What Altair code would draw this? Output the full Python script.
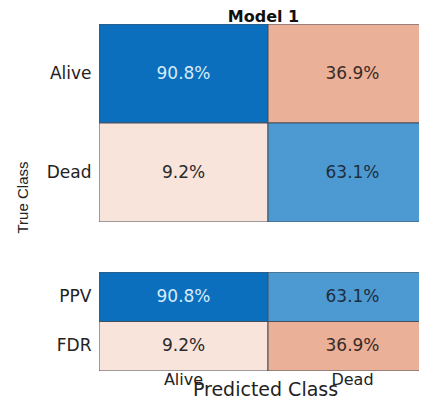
import altair as alt
import pandas as pd

classes = ["Alive", "Dead"]
true_class = ["Alive", "Alive", "Dead", "Dead"]
pred_class = ["Alive", "Dead", "Alive", "Dead"]
cm_pct = [90.8, 36.9, 9.2, 63.1]

metrics = ["PPV", "PPV", "FDR", "FDR"]
metric_pred = ["Alive", "Dead", "Alive", "Dead"]
metric_pct = [90.8, 63.1, 9.2, 36.9]

top_df = pd.DataFrame({"true": true_class, "pred": pred_class, "pct": cm_pct})
top_df["label"] = top_df["pct"].map(lambda v: f"{v:.1f}%")
bot_df = pd.DataFrame({"metric": metrics, "pred": metric_pred, "pct": metric_pct})
bot_df["label"] = bot_df["pct"].map(lambda v: f"{v:.1f}%")

tone_domain = ["90.8%", "63.1%", "36.9%", "9.2%"]
tone_range = ["#0b6fbd", "#4d9ad2", "#eab098", "#f8e4db"]
text_range = ["#d6ebfa", "#1e2e3e", "#3a2a26", "#2a2a2a"]

FONT = "DejaVu Sans"
W = 329          # plot width
FULL = 338       # full matrix width (right part is cut off as in the reference)
color = alt.Color("label:N", scale=alt.Scale(domain=tone_domain, range=tone_range), legend=None)
tcolor = alt.Color("label:N", scale=alt.Scale(domain=tone_domain, range=text_range), legend=None)


def matrix(df, rowfield, rows, height, bottom):
    yargs = dict(labelFont=FONT, labelFontSize=17, labelColor="#222",
                 ticks=False, domain=False, labelPadding=8, labelAngle=0)
    if not bottom:
        ax_y = alt.Axis(title="True Class", titleFont="Liberation Sans", titleFontSize=15,
                        titleFontWeight="normal", titleColor="#222", titleAngle=270,
                        titleAlign="center", titleBaseline="middle",
                        titleX=-77, titleY=173, **yargs)
        ax_x = alt.Axis(orient="top", title="Model 1", labels=False, ticks=False, domain=False,
                        titleFont=FONT, titleFontSize=16, titleFontWeight="bold",
                        titleColor="#111", titleBaseline="alphabetic", titleAlign="center",
                        titleY=-3, titleX=164)
    else:
        ax_y = alt.Axis(title=None, **yargs)
        ax_x = alt.Axis(title="Predicted Class", labelFont=FONT, labelFontSize=16, labelColor="#222",
                        ticks=False, domain=False, labelPadding=0, labelAngle=0,
                        labelBaseline="top",
                        titleFont=FONT, titleFontSize=19, titleFontWeight="normal",
                        titleColor="#222", titleBaseline="alphabetic", titleAlign="center",
                        titleY=24, titleX=166)
    x = alt.X("pred:N", sort=classes,
              scale=alt.Scale(paddingInner=0, paddingOuter=0, range=[0, FULL]), axis=ax_x)
    y = alt.Y(f"{rowfield}:N", sort=rows, scale=alt.Scale(paddingInner=0, paddingOuter=0), axis=ax_y)
    base = alt.Chart(df)
    rect = base.mark_rect(stroke="#46505c", strokeWidth=1, clip=True).encode(x=x, y=y, color=color)
    txt = base.mark_text(font=FONT, fontSize=17).encode(x=x, y=y, text="label:N", color=tcolor)
    return (rect + txt).resolve_scale(color="independent").properties(width=W, height=height)


top = matrix(top_df, "true", classes, 198, False)
bot = matrix(bot_df, "metric", ["PPV", "FDR"], 99, True)

chart = alt.vconcat(top, bot, spacing=39).properties(
    padding={"left": 7, "top": 0, "right": -18, "bottom": -2}, background="white"
).configure_view(stroke=None)

chart.save("out.html", embed_options={"renderer": "svg", "actions": False})
